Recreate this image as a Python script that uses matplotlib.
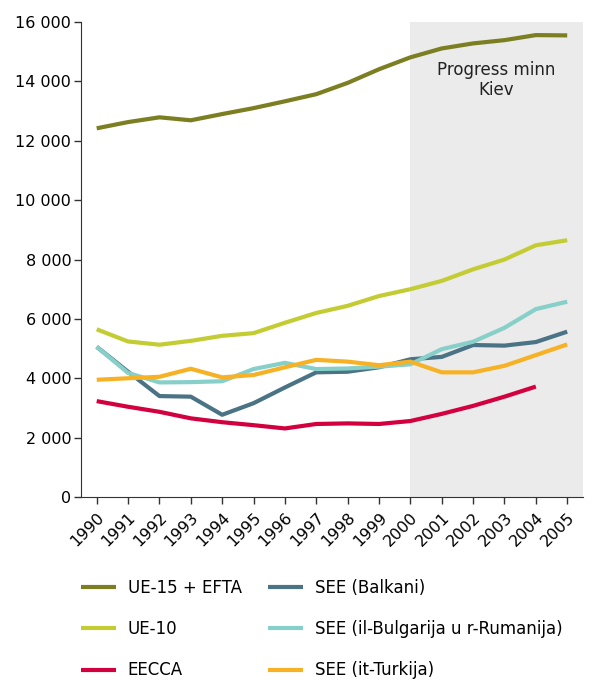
import matplotlib.pyplot as plt
import numpy as np

years = list(range(1990, 2006))
year_labels = [str(y) for y in years]

ue15_efta = [12420, 12630, 12790, 12690, 12900, 13100, 13330, 13570, 13950, 14410, 14810, 15110, 15280, 15390, 15560, 15550]
ue10 = [5650, 5240, 5130, 5260, 5430, 5520, 5870, 6200, 6440, 6770, 7000, 7280, 7670, 8000, 8480, 8650]
eecca = [3230, 3040, 2870, 2650, 2520, 2420, 2310, 2460, 2480, 2460, 2560, 2800, 3070, 3380, 3720]
see_balkani = [5060, 4220, 3400, 3380, 2770, 3160, 3690, 4200, 4220, 4370, 4640, 4720, 5120, 5100, 5220, 5570]
see_bul_rom = [5060, 4180, 3860, 3870, 3900, 4310, 4520, 4310, 4330, 4390, 4470, 4980, 5230, 5700, 6330, 6580]
see_turkey = [3950, 4000, 4050, 4320, 4030, 4110, 4370, 4620, 4560, 4440, 4560, 4200, 4200, 4420, 4780, 5140]

labels = ["UE-15 + EFTA", "UE-10", "EECCA", "SEE (Balkani)",
          "SEE (il-Bulgarija u r-Rumanija)", "SEE (it-Turkija)"]
colors = ["#7b7f21", "#c3cd33", "#d2003f", "#4a7385", "#87cfc9", "#f7b125"]
series = [ue15_efta, ue10, eecca, see_balkani, see_bul_rom, see_turkey]

fig = plt.figure(figsize=(6.11, 6.8), dpi=100)
ax = fig.add_axes([0.1326, 0.2691, 0.8214, 0.6985])

ax.axvspan(2000, 2005.5, color="#ebebeb", zorder=0, lw=0)
ax.text(2002.75, 14700, "Progress minn\nKiev", ha="center", va="top",
        fontsize=12, color="#222222")

handles = []
for vals, lab, col in zip(series, labels, colors):
    h, = ax.plot(years[:len(vals)], vals, color=col, lw=3, label=lab,
                 solid_capstyle="butt")
    handles.append(h)

ax.set_xlim(1989.5, 2005.5)
ax.set_ylim(0, 16000)
ax.set_yticks(np.arange(0, 16001, 2000))
ax.set_yticklabels(["0" if v == 0 else "{:,}".format(v).replace(",", " ")
                    for v in range(0, 16001, 2000)])
ax.set_xticks(years)
ax.set_xticklabels(year_labels, rotation=45, ha="right", rotation_mode="anchor")
ax.tick_params(axis="both", labelsize=11.5, length=5, width=1, color="#333333")
ax.tick_params(axis="x", pad=4)
ax.tick_params(axis="y", pad=2)

for s in ["top", "right"]:
    ax.spines[s].set_visible(False)
for s in ["left", "bottom"]:
    ax.spines[s].set_color("#333333")

fig.legend(handles=handles, loc="upper left", bbox_to_anchor=(0.108, 0.171),
           ncol=2, frameon=False, fontsize=12, handlelength=2.1,
           handletextpad=0.7, labelspacing=1.4, columnspacing=1.6)

fig.savefig("out.png", dpi=100)
